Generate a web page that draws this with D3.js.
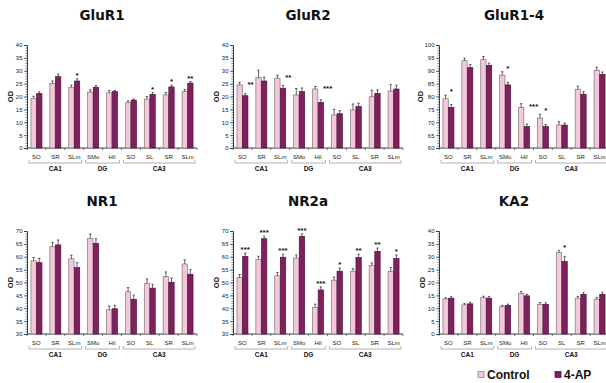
<!DOCTYPE html>
<html>
<head>
<meta charset="utf-8">
<script src="https://cdn.jsdelivr.net/npm/d3@7"></script>
<style>
  body { margin: 0; background: #fff; }
  svg { display: block; }
</style>
</head>
<body>
<svg id="chart" width="606" height="383"></svg>
<script>
// Hippocampal sub-regions (x categories) and the areas that group them
const regions = ["SO", "SR", "SLm", "SMo", "Hil", "SO", "SL", "SR", "SLm"];
const areas = ["CA1", "DG", "CA3"];
const areaFirst = [0, 3, 5];
const areaLast = [2, 4, 8];
const seriesNames = ["Control", "4-AP"];

// Y tick labels
const ticks0to40 = [0, 5, 10, 15, 20, 25, 30, 35, 40];
const ticks60to100 = [60, 65, 70, 75, 80, 85, 90, 95, 100];
const ticks30to70 = [30, 35, 40, 45, 50, 55, 60, 65, 70];

// GluR1
const glur1Control = [19.3, 25.1, 23.6, 21.7, 21.4, 17.6, 19.0, 20.6, 21.9];
const glur1AP = [21.1, 27.7, 26.0, 23.6, 21.9, 18.6, 20.8, 23.7, 25.2];
const glur1ControlErr = [0.8, 0.9, 0.8, 0.9, 0.9, 0.7, 1.0, 1.0, 0.8];
const glur1APErr = [0.7, 1.0, 0.9, 0.6, 0.5, 0.4, 0.7, 0.7, 0.6];
const glur1Sig = ["", "", "*", "", "", "", "*", "*", "**"];

// GluR2
const glur2Control = [24.5, 27.4, 27.1, 20.6, 22.9, 12.8, 14.8, 19.9, 22.1];
const glur2AP = [20.3, 26.0, 23.2, 21.9, 17.7, 13.3, 16.1, 21.2, 22.9];
const glur2ControlErr = [1.0, 2.8, 1.2, 2.5, 1.0, 2.2, 2.3, 2.6, 2.6];
const glur2APErr = [0.8, 1.5, 1.1, 1.4, 1.0, 1.2, 1.3, 1.4, 1.5];
const glur2Sig = ["**", "", "**", "", "***", "", "", "", ""];

// GluR1-4
const glur14Control = [79.1, 93.9, 94.3, 88.3, 75.7, 71.6, 68.9, 82.8, 90.2];
const glur14AP = [75.7, 91.2, 92.1, 84.5, 68.3, 68.3, 68.9, 80.9, 88.6];
const glur14ControlErr = [1.4, 1.0, 1.2, 1.3, 1.5, 1.5, 1.3, 1.2, 1.2];
const glur14APErr = [1.2, 1.2, 0.9, 1.0, 1.0, 0.8, 0.8, 1.0, 0.9];
const glur14Sig = ["*", "", "", "*", "***", "*", "", "", ""];

// NR1
const nr1Control = [58.4, 63.9, 59.2, 67.1, 39.4, 46.4, 49.7, 52.3, 57.2];
const nr1AP = [57.7, 64.6, 55.8, 65.2, 39.8, 43.5, 47.8, 50.1, 53.2];
const nr1ControlErr = [1.3, 1.7, 1.4, 1.7, 1.5, 1.6, 1.7, 1.8, 1.6];
const nr1APErr = [1.7, 1.9, 1.9, 1.8, 1.3, 1.6, 1.5, 1.6, 1.8];
const nr1Sig = ["", "", "", "", "", "", "", "", ""];

// NR2a
const nr2aControl = [51.9, 59.0, 52.6, 59.5, 40.3, 50.9, 54.4, 56.6, 54.3];
const nr2aAP = [60.1, 67.0, 59.8, 67.9, 47.1, 54.4, 59.7, 62.1, 59.3];
const nr2aControlErr = [1.2, 1.2, 1.3, 1.2, 1.3, 1.2, 1.0, 1.0, 1.5];
const nr2aAPErr = [1.3, 1.0, 1.2, 1.0, 1.2, 1.2, 1.3, 1.3, 1.4];
const nr2aSig = ["***", "***", "***", "***", "***", "*", "**", "**", "*"];

// KA2
const ka2Control = [13.6, 11.3, 14.1, 10.6, 15.8, 11.5, 31.6, 13.9, 13.5];
const ka2AP = [13.9, 11.7, 13.9, 11.1, 14.8, 11.5, 28.2, 15.4, 15.4];
const ka2ControlErr = [0.5, 0.5, 0.6, 0.5, 0.6, 0.7, 0.8, 0.7, 0.7];
const ka2APErr = [0.6, 0.6, 0.7, 0.5, 0.6, 0.6, 1.8, 0.6, 0.8];
const ka2Sig = ["", "", "", "", "", "", "*", "", ""];

const panels = [
  { title: "GluR1", ticks: ticks0to40, control: glur1Control, ap: glur1AP, cErr: glur1ControlErr, aErr: glur1APErr, sig: glur1Sig },
  { title: "GluR2", ticks: ticks0to40, control: glur2Control, ap: glur2AP, cErr: glur2ControlErr, aErr: glur2APErr, sig: glur2Sig },
  { title: "GluR1-4", ticks: ticks60to100, control: glur14Control, ap: glur14AP, cErr: glur14ControlErr, aErr: glur14APErr, sig: glur14Sig },
  { title: "NR1", ticks: ticks30to70, control: nr1Control, ap: nr1AP, cErr: nr1ControlErr, aErr: nr1APErr, sig: nr1Sig },
  { title: "NR2a", ticks: ticks30to70, control: nr2aControl, ap: nr2aAP, cErr: nr2aControlErr, aErr: nr2aAPErr, sig: nr2aSig },
  { title: "KA2", ticks: ticks0to40, control: ka2Control, ap: ka2AP, cErr: ka2ControlErr, aErr: ka2APErr, sig: ka2Sig }
];

// Layout of the 2x3 grid
const colLeft = [27, 233, 439];
const rowTop = [45, 231];
const plotW = 170, plotH = 103;

const colors = { Control: "#f6c6da", "4-AP": "#821f5e" };
const strokes = { Control: "#7a7a7a", "4-AP": "#4a1236" };
const axisColor = "#3a3a3a";
const labelFont = "Liberation Sans, Arial, sans-serif";

const svg = d3.select("#chart");

panels.forEach((p, i) => {
  const left = colLeft[i % 3], top = rowTop[Math.floor(i / 3)];
  const g = svg.append("g").attr("transform", `translate(${left},${top})`);

  const idx = d3.range(regions.length);
  const x = d3.scaleBand().domain(idx).range([0, plotW]).paddingInner(0.42).paddingOuter(0.21);
  const xs = d3.scaleBand().domain(seriesNames).range([0, x.bandwidth()]).paddingInner(0.06);
  const y = d3.scaleLinear().domain(d3.extent(p.ticks)).range([plotH, 0]);

  // title
  svg.append("text")
    .attr("x", left + 75).attr("y", top - 25)
    .attr("text-anchor", "middle")
    .attr("font-family", "DejaVu Sans, Verdana, sans-serif")
    .attr("font-weight", "bold").attr("font-size", 13.5)
    .attr("fill", "#111")
    .text(p.title);

  // y axis: minor ticks every unit, labelled ticks every 5
  const y0 = p.ticks[0], y1 = p.ticks[p.ticks.length - 1];
  const minor = g.append("g").call(d3.axisLeft(y).tickValues(d3.range(y0, y1 + 1, 1)).tickSize(1.6).tickFormat(""));
  minor.select(".domain").remove();
  minor.selectAll("line").attr("stroke", axisColor).attr("stroke-width", 0.6);

  const yAxis = g.append("g").call(d3.axisLeft(y).tickValues(p.ticks).tickSize(3).tickPadding(1.5));
  yAxis.select(".domain").attr("stroke", axisColor).attr("stroke-width", 1);
  yAxis.selectAll(".tick line").attr("stroke", axisColor).attr("stroke-width", 0.7);
  yAxis.selectAll("text").attr("font-family", labelFont).attr("font-size", 6).attr("fill", "#222");

  // y axis title
  g.append("text")
    .attr("transform", `translate(${y1 >= 100 ? -16 : -14.5},${plotH / 2}) rotate(-90)`)
    .attr("text-anchor", "middle")
    .attr("font-family", labelFont).attr("font-weight", "bold").attr("font-size", 7.5)
    .attr("fill", "#111")
    .text("OD");

  // x axis line with ticks at category boundaries
  g.append("line").attr("x1", 0).attr("x2", plotW).attr("y1", plotH).attr("y2", plotH)
    .attr("stroke", axisColor).attr("stroke-width", 1);
  g.selectAll(".xtick").data(d3.range(regions.length + 1)).join("line")
    .attr("x1", d => d * x.step()).attr("x2", d => d * x.step())
    .attr("y1", plotH).attr("y2", plotH + 2)
    .attr("stroke", axisColor).attr("stroke-width", 0.7);

  // category labels
  g.selectAll(".cat").data(regions).join("text")
    .attr("x", (d, k) => x(k) + x.bandwidth() / 2)
    .attr("y", plotH + 11)
    .attr("text-anchor", "middle")
    .attr("font-family", labelFont).attr("font-size", 6).attr("fill", "#222")
    .text(d => d);

  // area brackets and labels
  areas.forEach((a, k) => {
    const xa = x(areaFirst[k]) - x.step() * 0.21 + 2;
    const xb = x(areaLast[k]) + x.bandwidth() + x.step() * 0.21 - 2;
    const by = plotH + 15;
    g.append("path")
      .attr("d", `M${xa},${by - 3}V${by}H${xb}V${by - 3}`)
      .attr("fill", "none").attr("stroke", "#a8a8a8").attr("stroke-width", 0.9);
    g.append("text")
      .attr("x", (xa + xb) / 2).attr("y", by + 7.5)
      .attr("text-anchor", "middle")
      .attr("font-family", labelFont).attr("font-weight", "bold").attr("font-size", 6.5)
      .attr("fill", "#111")
      .text(a);
  });

  // bars
  const rows = idx.map(k => ({
    k,
    vals: [
      { s: "Control", v: p.control[k], e: p.cErr[k] },
      { s: "4-AP", v: p.ap[k], e: p.aErr[k] }
    ]
  }));

  const cat = g.selectAll(".catg").data(rows).join("g")
    .attr("transform", d => `translate(${x(d.k)},0)`);

  cat.selectAll("rect").data(d => d.vals).join("rect")
    .attr("x", d => xs(d.s))
    .attr("y", d => y(d.v))
    .attr("width", xs.bandwidth())
    .attr("height", d => plotH - y(d.v))
    .attr("fill", d => colors[d.s])
    .attr("stroke", d => strokes[d.s])
    .attr("stroke-width", 0.7);

  // error bars (upper only)
  cat.selectAll(".err").data(d => d.vals).join("path")
    .attr("d", d => {
      const cx = xs(d.s) + xs.bandwidth() / 2;
      const yt = y(d.v + d.e);
      return `M${cx},${y(d.v)}V${yt}M${cx - 1.2},${yt}H${cx + 1.2}`;
    })
    .attr("fill", "none").attr("stroke", "#222").attr("stroke-width", 0.7);

  // significance marks
  cat.each(function (d) {
    const s = p.sig[d.k];
    if (!s) return;
    const c = d.vals[0], a = d.vals[1];
    const topV = Math.max(c.v + c.e, a.v + a.e);
    const apShorter = a.v < c.v;
    const ax = xs("4-AP");
    const t = d3.select(this).append("text")
      .attr("font-family", labelFont).attr("font-weight", "bold").attr("font-size", 8)
      .attr("fill", "#111")
      .text(s);
    if (apShorter && s.length > 1) {
      t.attr("x", ax + xs.bandwidth() - 0.5).attr("y", y(topV) + 5).attr("text-anchor", "start");
    } else {
      t.attr("x", ax + xs.bandwidth() / 2).attr("y", y(topV) - 1).attr("text-anchor", "middle");
    }
  });
});

// legend
const legend = svg.append("g");
const legendX = [478, 555];
seriesNames.forEach((s, k) => {
  legend.append("rect")
    .attr("x", legendX[k]).attr("y", 371.5).attr("width", 6).attr("height", 6)
    .attr("fill", colors[s]).attr("stroke", strokes[s]).attr("stroke-width", 0.7);
  legend.append("text")
    .attr("x", legendX[k] + 9).attr("y", 379)
    .attr("font-family", labelFont).attr("font-weight", "bold").attr("font-size", 12)
    .attr("fill", "#111")
    .text(s);
});
</script>
</body>
</html>
